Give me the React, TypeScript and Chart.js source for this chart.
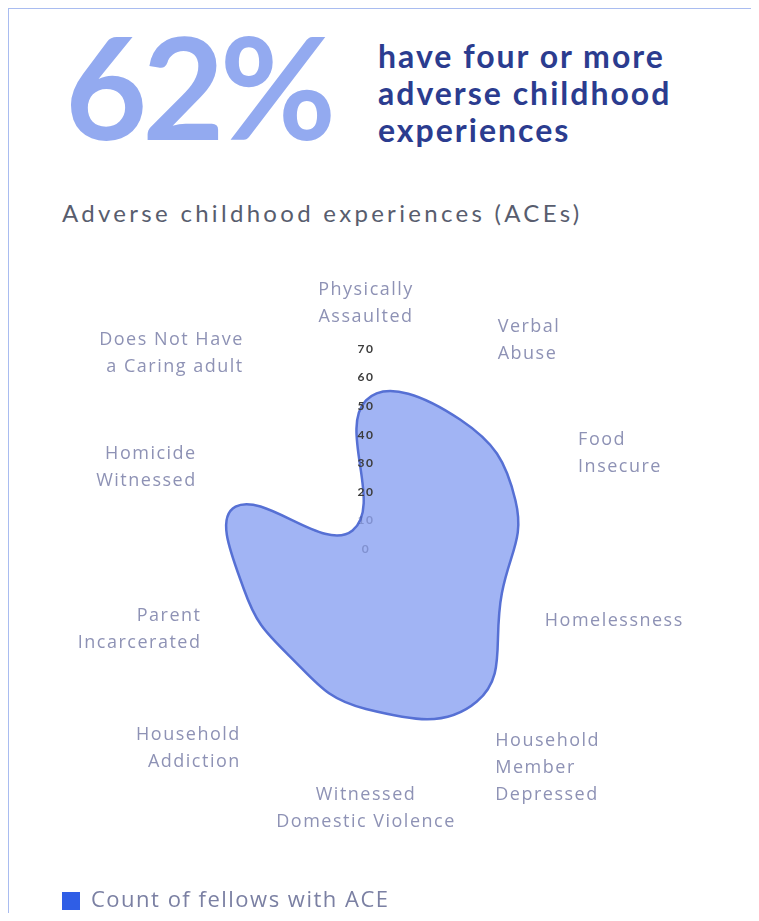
import React, { useEffect, useRef } from "react";
import { Chart, registerables } from "chart.js";

Chart.register(...registerables);

const categories: (string | string[])[] = [
  ["Physically", "Assaulted"],
  ["Verbal", "Abuse"],
  ["Food", "Insecure"],
  "Homelessness",
  ["Household", "Member", "Depressed"],
  ["Witnessed", "Domestic Violence"],
  ["Household", "Addiction"],
  ["Parent", "Incarcerated"],
  ["Homicide", "Witnessed"],
  ["Does Not Have", "a Caring adult"],
];
const aceCounts = [52, 56, 55, 50, 66, 56, 46, 45, 48, 8];
const seriesName = "Count of fellows with ACE";
const scaleMin = -0.001;
const scaleMax = 70;
const headlineValue = "62%";
const headlineLines = ["have four or more", "adverse childhood", "experiences"];
const chartTitle = "Adverse childhood experiences (ACEs)";
const labelGap = [11, 16, 15, -20, 12, 24, 5, -35, -30, 0];

const spacingPlugin = {
  id: "letterSpacing",
  beforeLayout(chart: any) {
    chart.ctx.letterSpacing = "1.5px";
  },
  beforeDraw(chart: any) {
    chart.ctx.letterSpacing = "1.5px";
  },
};

export default function App() {
  const ref = useRef<HTMLCanvasElement>(null);
  useEffect(() => {
    const chart = new Chart(ref.current as HTMLCanvasElement, {
      type: "radar",
      data: {
        labels: categories as any,
        datasets: [
          {
            label: seriesName,
            data: aceCounts,
            backgroundColor: "rgba(110,140,238,0.65)",
            borderColor: "#5670d4",
            borderWidth: 2.5,
            pointRadius: 0,
            pointHoverRadius: 0,
            tension: 0.45,
            fill: true,
          },
        ],
      },
      options: {
        responsive: false,
        animation: false,
        layout: { padding: { left: 43, right: 37, top: 15, bottom: 0 } },
        plugins: {
          tooltip: { enabled: false },
          legend: {
            position: "bottom",
            align: "start",
            title: { display: true, text: "", padding: { top: 26, bottom: 0 }, font: { size: 10 } },
            labels: {
              boxWidth: 18,
              boxHeight: 18,
              padding: 10,
              color: "#7b80a3",
              font: { family: "Open Sans", size: 22 },
              generateLabels: (c: any) =>
                (Chart.defaults.plugins.legend.labels as any)
                  .generateLabels(c)
                  .map((it: any) => ({ ...it, fillStyle: "#2f5ee6", strokeStyle: "#2f5ee6", lineWidth: 0 })),
            },
          },
        },
        scales: {
          r: {
            min: scaleMin,
            max: scaleMax,
            bounds: "data",
            grid: { display: false },
            angleLines: { display: false },
            ticks: {
              z: 1,
              showLabelBackdrop: false,
              callback: (v: any) => String(Math.round(Number(v))),
              color: (ctx: any) => (ctx.index < 2 ? "rgba(70,80,140,0.35)" : "#3d3d3d"),
              font: { family: "Lato", size: 12, weight: "bold" },
            },
            pointLabels: {
              color: "#8e92b5",
              font: { family: "Open Sans", size: 18, lineHeight: 1.5 },
              padding: (ctx: any) => labelGap[ctx.index],
            },
          },
        } as any,
      },
      plugins: [spacingPlugin],
    });
    return () => chart.destroy();
  }, []);

  return (
    <div
      style={{
        position: "relative",
        width: 750,
        height: 904,
        borderTop: "1px solid #a9bcf0",
        borderLeft: "1px solid #a9bcf0",
        overflow: "hidden",
        fontFamily: "Lato, sans-serif",
      }}
    >
      <div
        style={{
          position: "absolute",
          left: 56,
          top: 5,
          fontSize: 142,
          lineHeight: 1,
          fontWeight: 700,
          color: "#93aaf0",
          letterSpacing: -5,
          whiteSpace: "nowrap",
        }}
      >
        {headlineValue}
      </div>
      <div
        style={{
          position: "absolute",
          left: 369,
          top: 28,
          fontSize: 32,
          lineHeight: "37px",
          fontWeight: 700,
          color: "#2b3c8f",
          letterSpacing: 2,
          whiteSpace: "nowrap",
        }}
      >
        {headlineLines.map((l) => (
          <div key={l}>{l}</div>
        ))}
      </div>
      <div
        style={{
          position: "absolute",
          left: 53,
          top: 189,
          fontSize: 24,
          lineHeight: "30px",
          color: "#585d6e",
          letterSpacing: 3.3,
          whiteSpace: "nowrap",
        }}
      >
        {chartTitle}
      </div>
      <canvas
        ref={ref}
        width={740}
        height={667}
        style={{ position: "absolute", left: 0, top: 246, width: 740, height: 667 }}
      />
    </div>
  );
}
